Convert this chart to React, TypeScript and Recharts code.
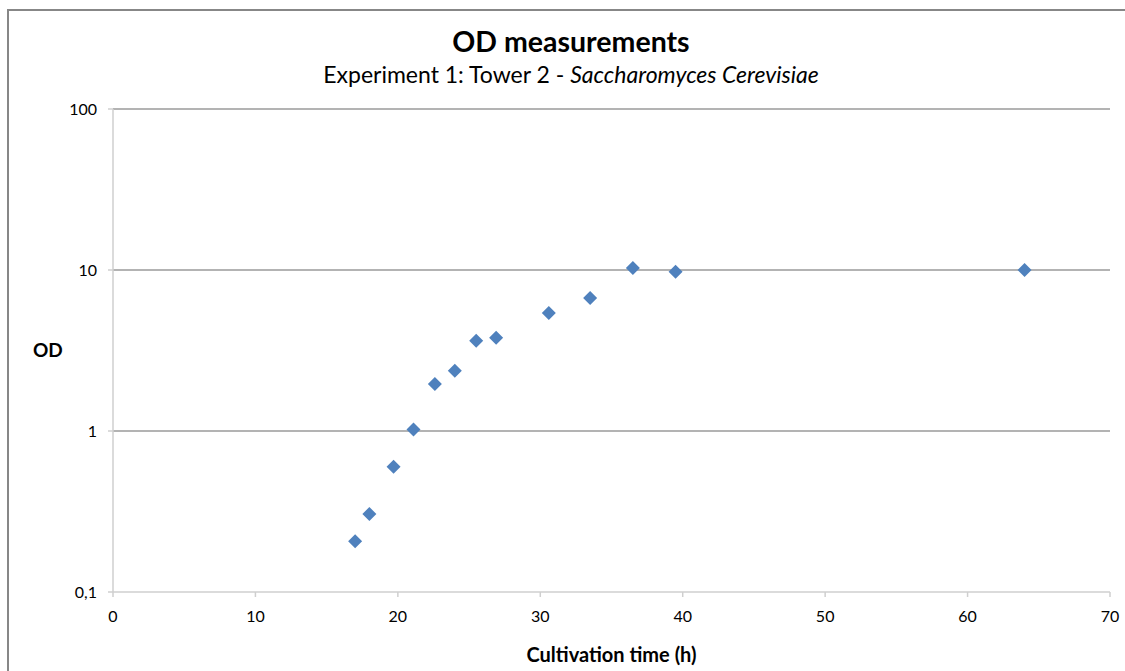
import { CartesianGrid, Label, Scatter, ScatterChart, XAxis, YAxis } from "recharts";

// cultivation time (h) and measured OD
const hours = [17, 18, 19.7, 21.1, 22.6, 24, 25.5, 26.9, 30.6, 33.5, 36.5, 39.5, 64];
const od = [0.207, 0.305, 0.6, 1.02, 1.96, 2.37, 3.63, 3.8, 5.4, 6.7, 10.3, 9.75, 10];

const xTicks = [0, 10, 20, 30, 40, 50, 60, 70];
const yTicks = [0.1, 1, 10, 100];
const gridValues = [1, 10, 100];

const data = hours.map((h, i) => ({ h, od: od[i] }));

const FONT = "Lato, 'Open Sans', sans-serif";

function Diamond(props: any) {
  const { cx, cy } = props;
  const r = 7;
  return (
    <polygon
      points={`${cx},${cy - r} ${cx + r},${cy} ${cx},${cy + r} ${cx - r},${cy}`}
      fill="#4f81bd"
    />
  );
}

export default function App() {
  return (
    <div
      style={{
        position: "absolute",
        left: 0,
        top: 0,
        width: 1125,
        height: 671,
        background: "#fff",
        fontFamily: FONT,
      }}
    >
      {/* chart frame, only top and left edges are visible */}
      <div style={{ position: "absolute", left: 7, top: 9, width: 1118, height: 2, background: "#878787" }} />
      <div style={{ position: "absolute", left: 7, top: 9, width: 2, height: 662, background: "#878787" }} />
      <div
        style={{
          position: "absolute",
          left: 0,
          width: 1142,
          top: 27,
          lineHeight: 1,
          textAlign: "center",
          fontSize: 28.5,
          fontWeight: 700,
          color: "#000",
        }}
      >
        OD measurements
      </div>
      <div
        style={{
          position: "absolute",
          left: 0,
          width: 1142,
          top: 63,
          lineHeight: 1,
          textAlign: "center",
          fontSize: 23,
          color: "#000",
        }}
      >
        Experiment 1: Tower 2 - <i>Saccharomyces Cerevisiae</i>
      </div>
      <div style={{ position: "absolute", left: 0, top: 0 }}>
        <ScatterChart
          width={1125}
          height={671}
          margin={{ top: 109, right: 15, bottom: 39, left: 33 }}
        >
          <CartesianGrid
            horizontal
            vertical={false}
            horizontalValues={gridValues}
            stroke="#9a9a9a"
            strokeWidth={1.3}
          />
          <XAxis
            type="number"
            dataKey="h"
            domain={[0, 70]}
            ticks={xTicks}
            interval={0}
            height={40}
            stroke="#cfcfcf"
            strokeWidth={1.5}
            tickSize={5}
            tickMargin={14}
            tick={{ fill: "#000", fontSize: 16, fontFamily: FONT }}
          >
            <Label
              value="Cultivation time (h)"
              position="bottom"
              offset={16}
              style={{ fill: "#000", fontSize: 20, fontWeight: 700, fontFamily: FONT }}
            />
          </XAxis>
          <YAxis
            type="number"
            dataKey="od"
            scale="log"
            domain={[0.1, 100]}
            ticks={yTicks}
            interval={0}
            allowDataOverflow
            width={80}
            stroke="#cfcfcf"
            strokeWidth={1.5}
            tickSize={5}
            tickMargin={11}
            tickFormatter={(v: number) => String(v).replace(".", ",")}
            tick={{ fill: "#000", fontSize: 16, fontFamily: FONT }}
          >
            <Label
              value="OD"
              position="insideLeft"
              offset={0}
              angle={0}
              style={{ fill: "#000", fontSize: 19, fontWeight: 700, fontFamily: FONT }}
            />
          </YAxis>
          <Scatter data={data} shape={<Diamond />} isAnimationActive={false} />
        </ScatterChart>
      </div>
    </div>
  );
}
